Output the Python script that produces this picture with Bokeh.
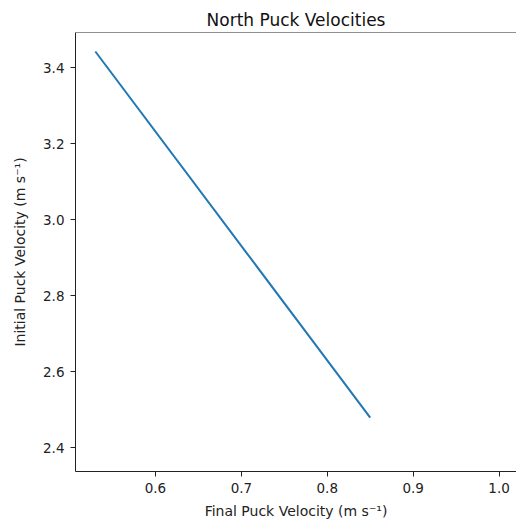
from bokeh.plotting import figure
from bokeh.models import FixedTicker, Range1d, Span, NumeralTickFormatter
from bokeh.embed import file_html
from bokeh.resources import INLINE

# Data
final_velocity = [0.53, 0.85]
initial_velocity = [3.443, 2.48]

x_ticks = [0.6, 0.7, 0.8, 0.9, 1.0]
y_ticks = [2.4, 2.6, 2.8, 3.0, 3.2, 3.4]

title_text = "North Puck Velocities"
x_label = "Final Puck Velocity (m s\u207b\u00b9)"
y_label = "Initial Puck Velocity (m s\u207b\u00b9)"

FONT = "DejaVu Sans"

p = figure(width=516, height=524, output_backend="svg", toolbar_location=None,
           x_range=Range1d(0.5069, 1.0203), y_range=Range1d(2.338, 3.493),
           min_border_left=75, min_border_right=0, min_border_top=32,
           min_border_bottom=53, title=title_text)

p.title.align = "center"
p.title.text_font = FONT
p.title.text_font_size = "17px"
p.title.text_font_style = "normal"
p.title.text_color = "#111111"
p.title.offset = 0
p.title.standoff = 6

p.grid.visible = False
p.outline_line_color = None
p.background_fill_color = "white"
p.border_fill_color = "white"

for ax in (p.xaxis[0], p.yaxis[0]):
    ax.axis_line_color = "#222222"
    ax.axis_line_width = 1
    ax.major_tick_line_color = "#222222"
    ax.major_tick_out = 5
    ax.major_tick_in = 0
    ax.minor_tick_line_color = None
    ax.major_label_text_font = FONT
    ax.major_label_text_font_size = "13.5px"
    ax.major_label_text_color = "#222222"
    ax.axis_label_text_font = FONT
    ax.axis_label_text_font_size = "14px"
    ax.axis_label_text_font_style = "normal"
    ax.axis_label_text_color = "#222222"
    ax.formatter = NumeralTickFormatter(format="0.0")

p.xaxis[0].ticker = FixedTicker(ticks=x_ticks)
p.yaxis[0].ticker = FixedTicker(ticks=y_ticks)
p.xaxis[0].axis_label = x_label
p.yaxis[0].axis_label = y_label
p.xaxis[0].major_label_standoff = 6
p.yaxis[0].major_label_standoff = 6
p.xaxis[0].axis_label_standoff = 7
p.yaxis[0].axis_label_standoff = 12

p.add_layout(Span(location=3.493, dimension="width", line_color="#222222", line_width=1))

p.line(final_velocity, initial_velocity, line_color="#1f77b4", line_width=2)

open("out.html", "w").write(file_html(p, INLINE))
